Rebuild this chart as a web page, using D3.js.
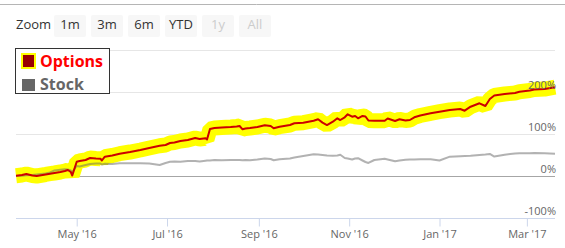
<!DOCTYPE html>
<html>
<head>
<meta charset="utf-8">
<script src="https://cdn.jsdelivr.net/npm/d3@7"></script>
<style>
  body { margin: 0; background: #fff; }
  svg { display: block; font-family: "Open Sans", sans-serif; }
</style>
</head>
<body>
<div class="canvas"></div>
<script>
// data (percent change)
const dates = ["2016-03-21","2016-03-25","2016-03-28","2016-04-01","2016-04-04","2016-04-10","2016-04-13","2016-04-16","2016-04-20","2016-04-23","2016-04-25","2016-04-27","2016-04-28","2016-05-01","2016-05-03","2016-05-07","2016-05-10","2016-05-14","2016-05-17","2016-05-18","2016-05-20","2016-05-25","2016-05-30","2016-06-06","2016-06-13","2016-06-19","2016-06-26","2016-06-30","2016-07-03","2016-07-06","2016-07-10","2016-07-15","2016-07-20","2016-07-23","2016-07-27","2016-07-28","2016-07-30","2016-08-02","2016-08-07","2016-08-13","2016-08-17","2016-08-19","2016-08-21","2016-08-23","2016-08-26","2016-08-31","2016-09-05","2016-09-09","2016-09-11","2016-09-15","2016-09-22","2016-09-25","2016-10-01","2016-10-08","2016-10-11","2016-10-14","2016-10-17","2016-10-21","2016-10-24","2016-10-26","2016-10-29","2016-10-31","2016-11-03","2016-11-05","2016-11-07","2016-11-10","2016-11-12","2016-11-14","2016-11-18","2016-11-25","2016-11-27","2016-12-02","2016-12-05","2016-12-09","2016-12-12","2016-12-15","2016-12-19","2016-12-26","2017-01-01","2017-01-08","2017-01-15","2017-01-18","2017-01-22","2017-01-28","2017-02-01","2017-02-04","2017-02-07","2017-02-14","2017-02-21","2017-02-24","2017-03-03","2017-03-06","2017-03-13","2017-03-20"];

const options = [0.7,2.4,4.8,1.2,0,3.6,5.5,7.1,9.5,11.9,14.3,9.5,1.2,34.0,35.7,38.1,42.9,41.7,41.2,36.9,46.0,48.8,53.1,57.1,61.9,66.7,72.1,73.8,78.6,79.8,83.3,85.7,90.5,88.1,89.8,86.9,111.9,114.3,115.5,116.7,117.9,119.0,111.2,113.1,114.3,116.7,120.7,119.0,113.6,117.4,121.4,125.5,127.0,131.7,135.0,127.0,121.4,129.3,137.4,133.3,139.8,147.0,141.2,142.9,137.4,142.9,141.7,132.1,131.7,131.7,136.9,130.9,135.0,132.1,133.3,139.8,144.0,149.3,153.1,157.1,159.5,155.5,165.0,173.1,166.7,183.3,191.7,195.2,197.6,200.7,203.6,206.0,207.1,211.4];

const stock = [0,0.7,1.7,2.4,3.6,6.0,8.3,13.1,14.8,16.0,15.5,13.1,9.5,23.8,22.6,26.2,28.6,29.8,29.8,27.4,29.0,28.6,30.2,30.2,30.2,29.8,26.2,31.0,34.0,34.5,33.8,35.7,35.7,34.5,36.4,36.9,36.9,38.1,37.4,38.1,38.1,38.1,37.4,38.1,37.6,39.3,41.7,40.5,37.6,39.8,41.7,44.0,47.6,51.9,51.2,50.0,48.8,48.1,48.8,50.5,42.9,41.7,39.3,41.7,42.4,36.9,33.3,31.0,38.1,41.0,39.3,35.0,36.9,38.8,39.3,39.3,39.8,39.8,36.9,46.0,47.1,47.6,48.1,50.0,51.2,52.4,46.4,50.7,53.6,54.0,54.0,54.8,54.0,53.1];

const yTicks = [-100, 0, 100, 200, 300];
const yLabels = [-100, 0, 100, 200];
const xTicks = ["2016-05-01","2016-07-01","2016-09-01","2016-11-01","2017-01-01","2017-03-01"];
const zoomButtons = ["1m", "3m", "6m", "YTD", "1y", "All"];
const disabledButtons = ["1y", "All"];

const width = 565, height = 248;
const parse = d3.timeParse("%Y-%m-%d");

const svg = d3.select(".canvas")
  .append("svg")
    .attr("width", width)
    .attr("height", height);

// top border line
svg.append("line")
    .attr("x1", 0).attr("x2", width)
    .attr("y1", 4.5).attr("y2", 4.5)
    .attr("stroke", "#b5b5b5");

// range selector buttons
svg.append("text")
    .attr("x", 16).attr("y", 29)
    .attr("fill", "#333")
    .style("font-size", "13px")
    .text("Zoom");

const btn = svg.selectAll("g.btn")
  .data(zoomButtons)
  .join("g")
    .attr("class", "btn")
    .attr("transform", (d, i) => `translate(${54 + i * 37},15)`);
btn.append("rect")
    .attr("width", 32).attr("height", 22).attr("rx", 2)
    .attr("fill", "#f7f7f7");
btn.append("text")
    .attr("x", 16).attr("y", 14)
    .attr("text-anchor", "middle")
    .attr("fill", d => disabledButtons.includes(d) ? "#cccccc" : "#333")
    .style("font-size", "13px")
    .text(d => d);

// scales
const x = d3.scaleTime()
    .domain([parse("2016-03-21"), parse("2017-03-20")])
    .range([16, 555]);
const y = d3.scaleLinear()
    .domain([-100, 300])
    .range([218, 50]);

// grid
svg.append("g")
  .selectAll("line")
  .data(yTicks.filter(v => v > -100))
  .join("line")
    .attr("x1", 16).attr("x2", 555)
    .attr("y1", d => Math.round(y(d)) + 0.5)
    .attr("y2", d => Math.round(y(d)) + 0.5)
    .attr("stroke", d => d === 0 ? "#a6a6a6" : "#e6e6e6");

// x axis
const xAxis = svg.append("g")
    .attr("transform", `translate(0,${218.5})`)
    .call(d3.axisBottom(x)
      .tickValues(xTicks.map(parse))
      .tickFormat(d3.timeFormat("%b '%y"))
      .tickSize(8)
      .tickSizeOuter(0));
xAxis.select(".domain").attr("stroke", "#ccd6eb").attr("d", "M16,0H555");
xAxis.selectAll(".tick line").attr("stroke", "#ccd6eb");
xAxis.selectAll(".tick text")
    .attr("fill", "#666")
    .attr("dy", null)
    .attr("y", 19)
    .style("font-size", "11px")
    .style("font-family", "\"Open Sans\", sans-serif");

const optData = dates.map((d, i) => ({date: parse(d), v: options[i]}));
const stockData = dates.map((d, i) => ({date: parse(d), v: stock[i]}));

const line = d3.line()
    .x(d => x(d.date))
    .y(d => y(d.v));

// yellow highlight band
svg.append("path")
    .datum(optData)
    .attr("d", line)
    .attr("fill", "none")
    .attr("stroke", "#ffff00")
    .attr("stroke-width", 15)
    .attr("stroke-linejoin", "bevel");

// stock
svg.append("path")
    .datum(stockData)
    .attr("d", line)
    .attr("fill", "none")
    .attr("stroke", "#666")
    .attr("stroke-opacity", 0.5)
    .attr("stroke-width", 2)
    .attr("stroke-linejoin", "round");

// options
svg.append("path")
    .datum(optData)
    .attr("d", line)
    .attr("fill", "none")
    .attr("stroke", "#cc0000")
    .attr("stroke-width", 2)
    .attr("stroke-linejoin", "round");

// y labels on top of the series
svg.append("g")
  .selectAll("text")
  .data(yLabels)
  .join("text")
    .attr("x", 556)
    .attr("y", d => y(d) - 3)
    .attr("text-anchor", "end")
    .attr("fill", "#666")
    .style("font-size", "11px")
    .text(d => d + "%");

// legend
const legend = svg.append("g");
legend.append("rect")
    .attr("x", 15.5).attr("y", 48.5)
    .attr("width", 94).attr("height", 45)
    .attr("fill", "#fff")
    .attr("stroke", "#333");
legend.append("rect")
    .attr("x", 22).attr("y", 54)
    .attr("width", 13).attr("height", 14)
    .attr("fill", "#990000")
    .attr("stroke", "#ffff00")
    .attr("stroke-width", 2);
legend.append("text")
    .attr("x", 40).attr("y", 67)
    .attr("fill", "#ff0000")
    .style("font-size", "16px")
    .style("font-weight", "bold")
    .text("Options");
legend.append("rect")
    .attr("x", 22).attr("y", 79)
    .attr("width", 13).attr("height", 12)
    .attr("fill", "#666");
legend.append("text")
    .attr("x", 40).attr("y", 89.5)
    .attr("fill", "#666")
    .style("font-size", "16px")
    .style("font-weight", "bold")
    .text("Stock");
</script>
</body>
</html>
